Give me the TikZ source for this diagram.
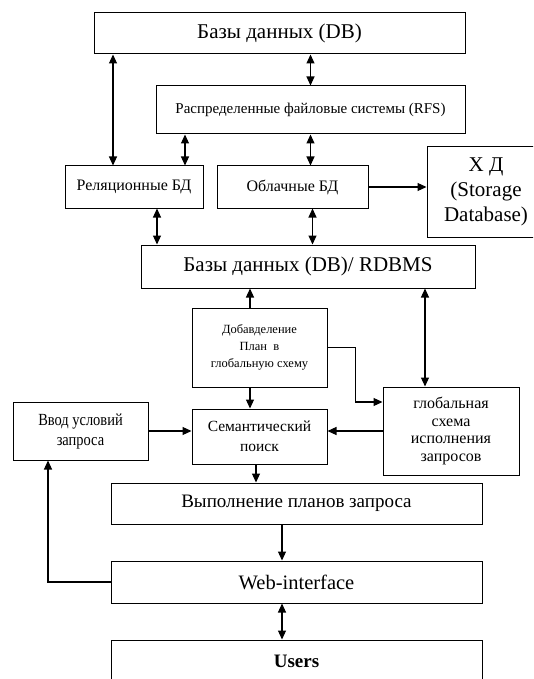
\documentclass[tikz,border=0pt]{standalone}
\usepackage{fontspec}
\setmainfont{Liberation Serif}
\newfontfamily\condfont[FakeStretch=0.85]{Liberation Serif}
\usetikzlibrary{arrows.meta}

\begin{document}
\begin{tikzpicture}[x=1pt,y=-1pt,
	main_node/.style={draw,rectangle,line width=1pt,inner sep=0pt,align=center},
	arr/.style={-{Triangle[length=9pt,width=8pt]},line width=1.1pt},
	darr/.style={{Triangle[length=9pt,width=8pt]}-{Triangle[length=9pt,width=8pt]},line width=1.1pt}]
	\useasboundingbox (0,0) rectangle (533,679);
	\clip (0,0) rectangle (533,679);
	\node[main_node,minimum width=371pt,minimum height=41pt,font=\fontsize{21}{24}\selectfont] (1) at (279.5,33.5) {Базы данных (DB)};
	\node[main_node,minimum width=309pt,minimum height=48pt,font=\fontsize{15}{18}\selectfont] (2) at (310.5,110) {Распределенные файловые системы (RFS)};
	\node[main_node,minimum width=138pt,minimum height=42pt,font=\fontsize{16}{19}\selectfont] (3) at (134,187) {Реляционные БД};
	\node[main_node,minimum width=151pt,minimum height=42pt,font=\fontsize{16}{19}\selectfont] (4) at (292.5,187) {Облачные БД};
	\node[main_node,minimum width=118pt,minimum height=90pt,font=\fontsize{21}{25}\selectfont] (5) at (486,192) {Х Д\\(Storage\\Database)};
	\node[main_node,minimum width=334pt,minimum height=43pt,font=\fontsize{21}{25}\selectfont] (6) at (308,266.5) {Базы данных (DB)/ RDBMS};
	\node[main_node,minimum width=135pt,minimum height=79pt,font=\fontsize{12.5}{17}\selectfont] (7) at (259.5,347.5) {Добавделение\\План~ в\\глобальную схему};
	\node[main_node,minimum width=136pt,minimum height=88pt,font=\fontsize{16}{17.5}\selectfont] (8) at (451,431) {глобальная\\схема\\исполнения\\запросов};
	\node[main_node,minimum width=135pt,minimum height=58pt,font=\condfont\fontsize{17}{20}\selectfont] (9) at (80.5,431) {Ввод условий\\запроса};
	\node[main_node,minimum width=135pt,minimum height=55pt,font=\fontsize{15.5}{20}\selectfont] (10) at (259.5,436.5) {Семантический\\поиск};
	\node[main_node,minimum width=371pt,minimum height=41pt,font=\fontsize{19}{22}\selectfont] (11) at (296.5,503.5) {Выполнение планов запроса};
	\node[main_node,minimum width=371pt,minimum height=42pt,font=\fontsize{20.5}{24}\selectfont] (12) at (296.5,582) {Web-interface};
	\node[main_node,minimum width=371pt,minimum height=42pt,font=\fontsize{19}{22}\selectfont\bfseries] (13) at (296.5,661) {Users};
	\draw[darr] ([xshift=-21pt]3.north) -- ([xshift=-21pt]3.north |- 1.south);
	\draw[darr] (1.south -| 2.north) -- (2.north);
	\draw[darr] ([xshift=51pt]3.north) -- ([xshift=51pt]3.north |- 2.south);
	\draw[darr] (2.south) -- (2.south |- 4.north);
	\draw[arr] (4.east) -- (4.east -| 5.west);
	\draw[darr] ([xshift=23pt]3.south) -- ([xshift=23pt]3.south |- 6.north);
	\draw[darr] ([xshift=20pt]4.south) -- ([xshift=20pt]4.south |- 6.north);
	\draw[arr] ([xshift=-9.5pt]7.north) -- ([xshift=-9.5pt]7.north |- 6.south);
	\draw[darr] ([xshift=-26pt]8.north) -- ([xshift=-26pt]8.north |- 6.south);
	\draw[arr] ([xshift=-9.5pt]7.south) -- ([xshift=-9.5pt]7.south |- 10.north);
	\draw[arr] (7.east) -- ++(28,0) |- ([yshift=29pt]8.west);
	\draw[arr] (9.east) -- (9.east -| 10.west);
	\draw[arr] (8.west) -- (8.west -| 10.east);
	\draw[arr] ([xshift=-3.5pt]10.south) -- ([xshift=-3.5pt]10.south |- 11.north);
	\draw[arr] ([xshift=-14.5pt]11.south) -- ([xshift=-14.5pt]11.south |- 12.north);
	\draw[darr] ([xshift=-14.5pt]12.south) -- ([xshift=-14.5pt]12.south |- 13.north);
	\draw[arr] (12.west) -| ([xshift=-32.5pt]9.south);
\end{tikzpicture}
\end{document}
